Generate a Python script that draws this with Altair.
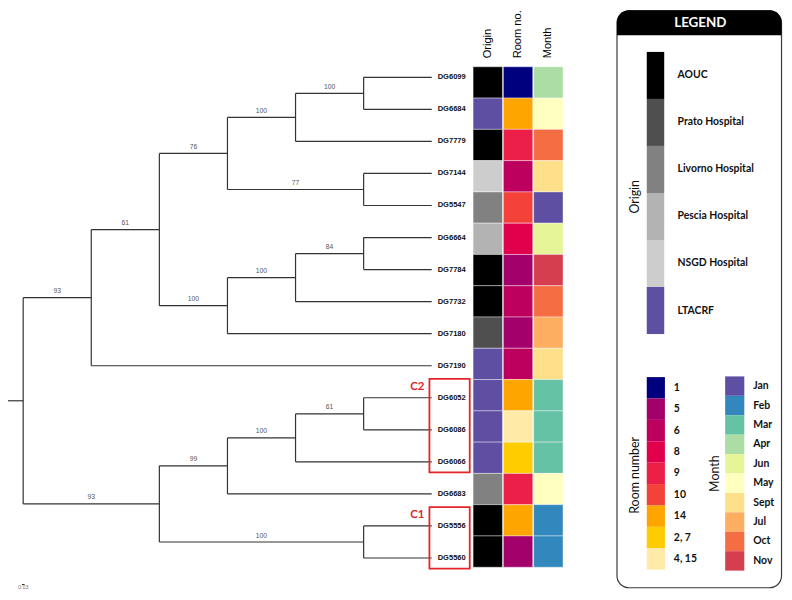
import altair as alt
import pandas as pd

# ---------------- data ----------------
leaves = ["DG6099", "DG6684", "DG7779", "DG7144", "DG5547", "DG6664", "DG7784", "DG7732",
          "DG7180", "DG7190", "DG6052", "DG6086", "DG6066", "DG6683", "DG5556", "DG5560"]
origin = ["AOUC", "LTACRF", "AOUC", "NSGD Hospital", "Livorno Hospital", "Pescia Hospital", "AOUC", "AOUC",
          "Prato Hospital", "LTACRF", "LTACRF", "LTACRF", "LTACRF", "Livorno Hospital", "AOUC", "AOUC"]
room = ["1", "14", "9", "6", "10", "8", "5", "6", "5", "6", "14", "4, 15", "2, 7", "9", "14", "5"]
month = ["Apr", "May", "Oct", "Sept", "Jan", "Jun", "Nov", "Oct", "Jul", "Sept", "Mar", "Mar", "Mar",
         "May", "Feb", "Feb"]

origin_cats = ["AOUC", "Prato Hospital", "Livorno Hospital", "Pescia Hospital", "NSGD Hospital", "LTACRF"]
origin_colors = ["#000000", "#4f4f4f", "#818181", "#b3b3b3", "#cdcdcd", "#5e4fa2"]
room_cats = ["1", "5", "6", "8", "9", "10", "14", "2, 7", "4, 15"]
room_colors = ["#00007f", "#a3006c", "#bd005e", "#e0004b", "#ec1f48", "#f4413a", "#ffa500", "#ffcc00", "#ffeaa8"]
month_cats = ["Jan", "Feb", "Mar", "Apr", "Jun", "May", "Sept", "Jul", "Oct", "Nov"]
month_colors = ["#5e4fa2", "#3288bd", "#66c2a5", "#abdda4", "#e6f598", "#ffffbf", "#fee08b", "#fdae61",
                "#f46d43", "#d53e4f"]

columns = ["Origin", "Room no.", "Month"]

# internal nodes: name -> (drawing level, bootstrap support, children)
nodes = {
    "root": (0, None, ["A", "B"]),
    "A": (1, 93, ["A1", "DG7190"]),
    "A1": (2, 61, ["A11", "A12"]),
    "A11": (3, 76, ["A111", "A112"]),
    "A111": (4, 100, ["A1111", "DG7779"]),
    "A1111": (5, 100, ["DG6099", "DG6684"]),
    "A112": (5, 77, ["DG7144", "DG5547"]),
    "A12": (3, 100, ["A121", "DG7180"]),
    "A121": (4, 100, ["A1211", "DG7732"]),
    "A1211": (5, 84, ["DG6664", "DG7784"]),
    "B": (2, 93, ["B1", "B2"]),
    "B1": (3, 99, ["B11", "DG6683"]),
    "B11": (4, 100, ["B111", "DG6066"]),
    "B111": (5, 61, ["DG6052", "DG6086"]),
    "B2": (5, 100, ["DG5556", "DG5560"]),
}
leaf_level = 6

clusters = [("C2", "DG6052", "DG6066"), ("C1", "DG5556", "DG5560")]
scale_bar_label = "0.03"

# ---------------- derived tables ----------------
leaf_idx = {n: i for i, n in enumerate(leaves)}


def pos(n):
    if n in leaf_idx:
        return leaf_level, leaf_idx[n]
    lvl, _, ch = nodes[n]
    ys = [pos(c)[1] for c in ch]
    return lvl, sum(ys) / len(ys)


segs, boot = [], []
for n, (lvl, bs, ch) in nodes.items():
    x, y = pos(n)
    cys = [pos(c)[1] for c in ch]
    segs.append(dict(x=x, x2=x, y=min(cys), y2=max(cys)))
    for c in ch:
        cx, cy = pos(c)
        segs.append(dict(x=x, x2=cx, y=cy, y2=cy))
        if c in nodes and nodes[c][1] is not None:
            boot.append(dict(x=(x + cx) / 2, y=cy, t=str(nodes[c][1])))
rx, ry = pos("root")
segs.append(dict(x=rx - 0.25, x2=rx, y=ry, y2=ry))

seg_df = pd.DataFrame(segs)
boot_df = pd.DataFrame(boot)
leaf_df = pd.DataFrame({"leaf": leaves, "x": [leaf_level] * len(leaves), "y": list(range(len(leaves)))})

heat_rows = []
for i, lf in enumerate(leaves):
    heat_rows.append(dict(leaf=lf, col="Origin", key=origin[i]))
    heat_rows.append(dict(leaf=lf, col="Room no.", key=room[i]))
    heat_rows.append(dict(leaf=lf, col="Month", key=month[i]))
heat_df = pd.DataFrame(heat_rows)

clu_df = pd.DataFrame([dict(name=c, y=leaf_idx[a] - 0.59, y2=leaf_idx[b] + 0.33, ty=leaf_idx[a] - 0.34)
                       for c, a, b in clusters])

# ---------------- scales ----------------
XT = alt.Scale(domain=[0, 6], range=[15.3, 427])
YT = alt.Scale(domain=[0, 15], range=[67.6, 552])
CS = alt.Scale(domain=origin_cats + room_cats + month_cats,
               range=origin_colors + room_colors + month_colors)
XH = alt.Scale(domain=columns, range=[468.7, 559.3], paddingInner=0.03, paddingOuter=0)
YH = alt.Scale(domain=leaves, range=[57, 561.3], paddingInner=0, paddingOuter=0)

one = pd.DataFrame({"a": [0]})

# ---------------- tree ----------------
tree = alt.Chart(seg_df).mark_rule(color="#333333", strokeWidth=1.2).encode(
    x=alt.X("x:Q", scale=XT, axis=None), x2="x2:Q",
    y=alt.Y("y:Q", scale=YT, axis=None), y2="y2:Q")

boot_txt = alt.Chart(boot_df).mark_text(fontSize=6.8, color="#555555", dy=-6.5,
                                        font="Liberation Sans").encode(
    x=alt.X("x:Q", scale=XT, axis=None), y=alt.Y("y:Q", scale=YT, axis=None), text="t:N")

leaf_txt = alt.Chart(leaf_df).mark_text(fontSize=7.6, fontWeight="bold", align="left", dx=6,
                                        color="#111111", font="Liberation Sans").encode(
    x=alt.X("x:Q", scale=XT, axis=None), y=alt.Y("y:Q", scale=YT, axis=None), text="leaf:N")

clu_box = alt.Chart(clu_df).mark_rect(fillOpacity=0, stroke="#e3242b", strokeWidth=1.8).encode(
    x=alt.value(424.7), x2=alt.value(465.3),
    y=alt.Y("y:Q", scale=YT, axis=None), y2="y2:Q")

clu_txt = alt.Chart(clu_df).mark_text(fontSize=11.5, fontWeight="bold", color="#e3242b",
                                      font="Lato").encode(
    x=alt.value(412.5), y=alt.Y("ty:Q", scale=YT, axis=None), text="name:N")

scale_bar = alt.Chart(one).mark_rule(color="#333333", strokeWidth=1).encode(
    x=alt.value(14), x2=alt.value(16.7), y=alt.value(578.7))
scale_txt = alt.Chart(one).mark_text(fontSize=5.5, color="#777777", baseline="bottom",
                                     font="Liberation Sans").encode(
    x=alt.value(15.3), y=alt.value(584), text=alt.value(scale_bar_label))

# ---------------- heatmap ----------------
heat = alt.Chart(heat_df).mark_rect(stroke="white", strokeWidth=0.4).encode(
    x=alt.X("col:N", scale=XH, axis=None),
    y=alt.Y("leaf:N", scale=YH, axis=None),
    color=alt.Color("key:N", scale=CS, legend=None))

col_df = pd.DataFrame({"col": columns})
col_txt = alt.Chart(col_df).mark_text(angle=270, align="left", baseline="middle", fontSize=11.2,
                                      color="#000000", font="Liberation Sans").encode(
    x=alt.X("col:N", scale=XH, axis=None), y=alt.value(48.5), text="col:N")

# ---------------- legend panel ----------------
frame = alt.Chart(one).mark_rect(fill="white", stroke="#3a3a3a", strokeWidth=1.2, cornerRadius=12).encode(
    x=alt.value(613.7), x2=alt.value(779.5), y=alt.value(0.6), y2=alt.value(582))
header = alt.Chart(one).mark_rect(fill="#000000", cornerRadiusTopLeft=12, cornerRadiusTopRight=12).encode(
    x=alt.value(613.7), x2=alt.value(779.5), y=alt.value(0), y2=alt.value(25.3))
header_txt = alt.Chart(one).mark_text(color="white", fontWeight="bold", fontSize=13.5, font="Lato").encode(
    x=alt.value(697.7), y=alt.value(13), text=alt.value("LEGEND"))


def legend_block(cats, rng, x0, x1, xl, title, tx, ty):
    d = pd.DataFrame({"key": cats})
    ys = alt.Scale(domain=cats, range=rng, paddingInner=0, paddingOuter=0)
    sw = alt.Chart(d).mark_rect().encode(
        x=alt.value(x0), x2=alt.value(x1),
        y=alt.Y("key:N", scale=ys, axis=None),
        color=alt.Color("key:N", scale=CS, legend=None))
    lb = alt.Chart(d).mark_text(align="left", fontWeight="bold", fontSize=10.5, color="#111111",
                                font="Lato").encode(
        x=alt.value(xl), y=alt.Y("key:N", scale=ys, axis=None), text="key:N")
    tt = alt.Chart(one).mark_text(angle=270, fontSize=12.5, color="#111111", font="Lato").encode(
        x=alt.value(tx), y=alt.value(ty), text=alt.value(title))
    return [sw, lb, tt]


leg_origin = legend_block(origin_cats, [42, 326.3], 643.7, 661.3, 674.7, "Origin", 632, 188)
leg_room = legend_block(room_cats, [369.7, 563.7], 643.7, 662, 671, "Room number", 632, 468.7)
leg_month = legend_block(month_cats, [369, 564.7], 722.7, 742, 751, "Month", 712, 467)

layers = [tree, boot_txt, leaf_txt, clu_box, clu_txt, scale_bar, scale_txt, heat, col_txt,
          frame, header, header_txt] + leg_origin + leg_room + leg_month

chart = alt.layer(*layers).resolve_scale(
    x="independent", y="independent", color="independent"
).properties(width=782, height=584, autosize="none", padding=0).configure_view(stroke=None)

chart.save("out.html", embed_options={"renderer": "svg", "actions": False})
